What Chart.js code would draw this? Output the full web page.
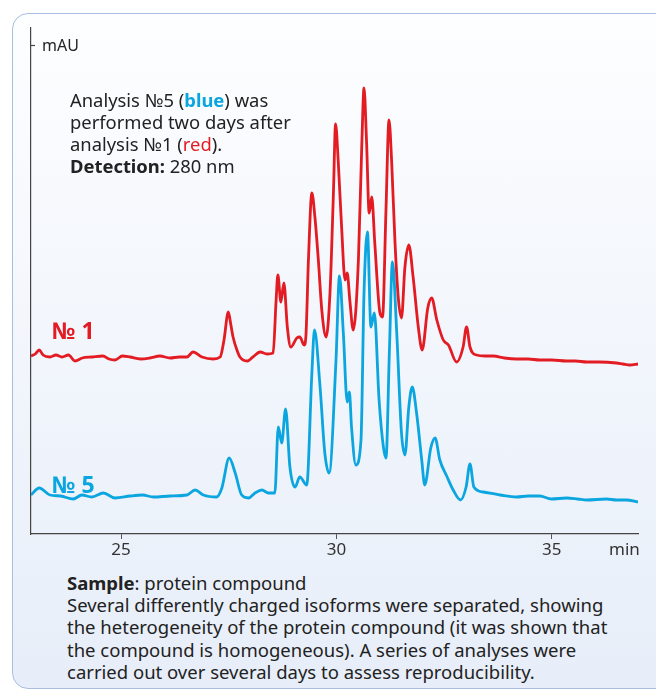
<!DOCTYPE html>
<html>
<head>
<meta charset="utf-8">
<script src="https://cdn.jsdelivr.net/npm/chart.js@4"></script>
<style>
    body { margin: 0; width: 656px; height: 690px; overflow: hidden; background: #fff; font-family: "Noto Sans", sans-serif; color: #222; position: relative; }
    #panel { position: absolute; left: 12px; top: 13px; width: 662px; height: 674px; border: 1.5px solid #a8bedf; border-radius: 16px; background: linear-gradient(#fdfeff, #e7eef9); }
    #chromChart { position: absolute; left: 0; top: 0; }
    .lbl { position: absolute; white-space: nowrap; }
    #mau { left: 42px; top: 34px; font-size: 16px; line-height: 22px; }
    #minLbl { left: 609px; top: 537px; font-size: 17px; line-height: 24px; color: #333; }
    #note { left: 70px; top: 89px; font-size: 18.4px; line-height: 22px; }
    .no { font-weight: bold; font-size: 23px; line-height: 26px; left: 52px; }
    #no1 { top: 317px; color: #e31b23; }
    #no5 { top: 471px; color: #0ba5df; }
    #desc { left: 67px; top: 572px; font-size: 18.5px; line-height: 22.2px; }
    .blue { color: #0ba5df; font-weight: bold; }
    .red { color: #e31b23; }
</style>
</head>
<body>
<div id="panel"></div>
<canvas id="chromChart" width="656" height="570"></canvas>
<div class="lbl" id="mau">mAU</div>
<div class="lbl" id="minLbl">min</div>
<div class="lbl" id="note">Analysis №5 (<span class="blue">blue</span>) was<br>performed two days after<br>analysis №1 (<span class="red">red</span>).<br><b>Detection:</b> 280 nm</div>
<div class="lbl no" id="no1">№ 1</div>
<div class="lbl no" id="no5">№ 5</div>
<div class="lbl" id="desc"><b>Sample</b>: protein compound<br>Several differently charged isoforms were separated, showing<br>the heterogeneity of the protein compound (it was shown that<br>the compound is homogeneous). A series of analyses were<br>carried out over several days to assess reproducibility.</div>
<script>
// retention time (min) and absorbance (mAU, traces offset as in the plot)
const redTime = [22.91, 23.01, 23.10, 23.19, 23.35, 23.49, 23.63, 23.78, 23.93, 24.10, 24.33, 24.58, 24.72, 24.86, 25.03, 25.21, 25.45, 25.67, 25.90, 26.14, 26.35, 26.53, 26.67, 26.88, 27.14, 27.30, 27.39, 27.49, 27.55, 27.60, 27.69, 27.76, 27.93, 28.06, 28.23, 28.39, 28.53, 28.60, 28.64, 28.71, 28.78, 28.86, 28.94, 29.08, 29.15, 29.25, 29.29, 29.35, 29.43, 29.50, 29.58, 29.66, 29.76, 29.85, 29.93, 29.98, 30.04, 30.12, 30.20, 30.25, 30.31, 30.39, 30.51, 30.59, 30.64, 30.70, 30.76, 30.82, 30.89, 31.01, 31.07, 31.15, 31.22, 31.28, 31.36, 31.44, 31.51, 31.59, 31.68, 31.78, 31.90, 31.99, 32.12, 32.21, 32.33, 32.48, 32.60, 32.79, 32.94, 33.02, 33.10, 33.25, 33.45, 33.64, 33.90, 34.18, 34.45, 34.72, 35.00, 35.34, 35.55, 35.81, 36.10, 36.50, 36.65, 36.81, 37.00];
const redMau = [178, 180, 184, 179, 177, 179, 177, 179, 173, 176, 177, 178, 175, 174, 178, 177, 175, 176, 178, 176, 177, 177, 182, 177, 175, 177, 194, 222, 209, 197, 184, 177, 173, 177, 182, 180, 181, 234, 259, 232, 251, 207, 187, 196, 197, 189, 197, 274, 341, 317, 274, 224, 197, 241, 341, 410, 374, 307, 254, 261, 234, 204, 274, 391, 446, 391, 321, 337, 291, 221, 217, 324, 414, 374, 291, 234, 216, 267, 289, 257, 207, 184, 226, 236, 214, 194, 189, 172, 187, 207, 187, 179, 178, 178, 176, 175, 175, 174, 174, 173, 173, 172, 172, 171, 170, 169, 170];

const blueTime = [22.91, 23.10, 23.35, 23.60, 23.89, 24.09, 24.32, 24.59, 24.86, 25.21, 25.50, 25.75, 26.14, 26.53, 26.72, 26.91, 27.22, 27.34, 27.51, 27.65, 27.80, 27.96, 28.11, 28.27, 28.42, 28.57, 28.65, 28.73, 28.82, 28.92, 29.04, 29.15, 29.31, 29.43, 29.49, 29.62, 29.73, 29.83, 29.99, 30.07, 30.16, 30.25, 30.30, 30.35, 30.45, 30.57, 30.64, 30.72, 30.80, 30.88, 30.99, 31.09, 31.15, 31.23, 31.30, 31.40, 31.51, 31.59, 31.68, 31.76, 31.86, 31.98, 32.05, 32.19, 32.29, 32.40, 32.57, 32.71, 32.88, 33.01, 33.10, 33.19, 33.41, 33.80, 34.18, 34.45, 34.72, 34.99, 35.34, 35.60, 35.81, 36.27, 36.50, 36.73, 37.00];
const blueMau = [39, 46, 39, 38, 35, 39, 37, 41, 36, 38, 39, 37, 38, 39, 44, 39, 37, 46, 76, 61, 39, 36, 41, 44, 41, 41, 107, 91, 125, 67, 47, 57, 49, 161, 204, 147, 81, 61, 174, 258, 201, 132, 142, 107, 69, 94, 241, 302, 207, 221, 134, 87, 76, 184, 272, 201, 101, 79, 127, 147, 121, 74, 49, 86, 96, 74, 57, 44, 34, 47, 70, 47, 42, 39, 37, 38, 38, 35, 36, 35, 34, 35, 34, 34, 32];

const xTicks = [25, 30, 35];
const mauTickValue = 489;

const toPoints = (times, values) => times.map((t, i) => ({ x: t, y: values[i] }));

// little tick next to the mAU label on the y axis
const axisTick = {
    id: 'axisTick',
    afterDraw(chart) {
        const { ctx, scales: { x, y } } = chart;
        const py = Math.round(y.getPixelForValue(mauTickValue)) + 0.5;
        ctx.save();
        ctx.strokeStyle = '#444';
        ctx.lineWidth = 1.2;
        ctx.beginPath();
        ctx.moveTo(x.left, py);
        ctx.lineTo(x.left + 4, py);
        ctx.stroke();
        ctx.restore();
    }
};

const ctx = document.getElementById('chromChart').getContext('2d');
new Chart(ctx, {
    type: 'line',
    data: {
        datasets: [
            {
                label: '№ 1',
                data: toPoints(redTime, redMau),
                borderColor: '#e31b23',
                borderWidth: 2.8,
                pointRadius: 0,
                cubicInterpolationMode: 'monotone',
                fill: false
            },
            {
                label: '№ 5',
                data: toPoints(blueTime, blueMau),
                borderColor: '#0ba5df',
                borderWidth: 2.8,
                pointRadius: 0,
                cubicInterpolationMode: 'monotone',
                fill: false
            }
        ]
    },
    options: {
        responsive: false,
        animation: false,
        devicePixelRatio: 1,
        layout: { padding: { left: 31, top: 28, right: 18, bottom: 0 } },
        plugins: { legend: { display: false }, tooltip: { enabled: false } },
        scales: {
            x: {
                type: 'linear',
                min: 22.91,
                max: 37.0,
                afterBuildTicks: scale => { scale.ticks = xTicks.map(v => ({ value: v })); },
                afterFit: scale => { scale.height = 36; },
                ticks: { color: '#333', font: { family: 'Noto Sans', size: 17 }, padding: 1 },
                grid: { drawOnChartArea: false, drawTicks: true, tickLength: 5, color: '#555' },
                border: { color: '#444', width: 1.2 }
            },
            y: {
                min: 0,
                max: 506,
                afterFit: scale => { scale.width = 0; },
                ticks: { display: false },
                grid: { display: false, drawTicks: false },
                border: { color: '#444', width: 1.2 }
            }
        }
    },
    plugins: [axisTick]
});
</script>
</body>
</html>
